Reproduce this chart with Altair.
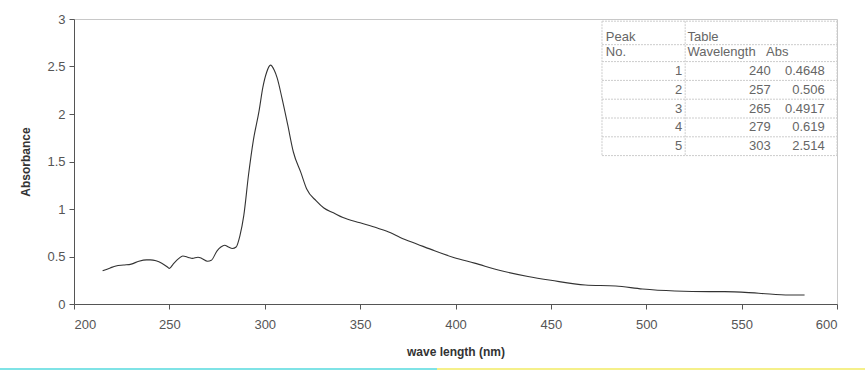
import altair as alt
import pandas as pd

# ---- spectrum data ----
wavelength = [215, 219, 222, 226, 230, 234, 238, 240, 243, 246, 249, 250, 252, 255, 257,
              260, 262, 265, 267, 270, 272, 275, 277, 279, 281, 283, 285, 287, 289, 291.5,
              294, 297, 299, 301, 303, 305, 306.5, 309, 312, 315, 319, 322, 327, 331, 336,
              341, 350, 359, 366, 371, 380, 389, 399, 410, 424, 438, 450, 468, 484, 498,
              515, 533, 541, 559, 575, 583]
absorbance = [0.35, 0.38, 0.40, 0.41, 0.42, 0.45, 0.465, 0.465, 0.455, 0.43, 0.39, 0.375, 0.42,
              0.48, 0.506, 0.49, 0.48, 0.4917, 0.48, 0.45, 0.46, 0.56, 0.60, 0.619, 0.60, 0.585,
              0.60, 0.72, 0.93, 1.36, 1.72, 2.03, 2.28, 2.44, 2.514, 2.46, 2.38, 2.17, 1.89,
              1.60, 1.38, 1.21, 1.085, 1.01, 0.96, 0.91, 0.855, 0.80, 0.75, 0.70, 0.63, 0.56,
              0.49, 0.43, 0.35, 0.29, 0.25, 0.20, 0.19, 0.158, 0.137, 0.13, 0.13, 0.113,
              0.095, 0.095]
assert len(wavelength) == len(absorbance)

# ---- peak table ----
peak_no = ["1", "2", "3", "4", "5"]
peak_wl = ["240", "257", "265", "279", "303"]
peak_abs = ["0.4648", "0.506", "0.4917", "0.619", "2.514"]

x_ticks = [200, 250, 300, 350, 400, 450, 500, 550, 600]
y_ticks = [0, 0.5, 1, 1.5, 2, 2.5, 3]

FONT = "Liberation Sans"
GRAY = "#666666"

spec = pd.DataFrame({"wl": wavelength, "a": absorbance})

line = alt.Chart(spec).mark_line(color="#333333", strokeWidth=1.1, interpolate="monotone").encode(
    x=alt.X("wl:Q", scale=alt.Scale(domain=[200, 600], nice=False),
            axis=alt.Axis(values=x_ticks, title="wave length (nm)", grid=False,
                          tickSize=5, labelPadding=9, titlePadding=15)),
    y=alt.Y("a:Q", scale=alt.Scale(domain=[0, 3], nice=False),
            axis=alt.Axis(values=y_ticks, title="Absorbance", grid=False, format="~g",
                          tickSize=5, labelPadding=4, titlePadding=14)),
)

# table in its own coordinate system: column fraction (x) and row index (y)
tx = alt.Scale(domain=[0, 1], range=[0, 763])
ty = alt.Scale(domain=[0, 4], range=[52, 127.2])

rows = []
for i, (n, w, a) in enumerate(zip(peak_no, peak_wl, peak_abs)):
    rows.append({"r": i, "c": 0.797, "t": n})
    rows.append({"r": i, "c": 0.913, "t": w})
    rows.append({"r": i, "c": 0.984, "t": a})
hdr = [
    {"r": -1.8, "c": 0.697, "t": "Peak"},
    {"r": -1.0, "c": 0.697, "t": "No."},
    {"r": -1.8, "c": 0.804, "t": "Table"},
    {"r": -1.0, "c": 0.804, "t": "Wavelength"},
    {"r": -1.0, "c": 0.907, "t": "Abs"},
]
tdf = pd.DataFrame(rows)
hdf = pd.DataFrame(hdr)

text_r = alt.Chart(tdf).mark_text(align="right", baseline="middle", font=FONT, fontSize=13,
                                  color=GRAY).encode(
    x=alt.X("c:Q", scale=tx, axis=None), y=alt.Y("r:Q", scale=ty, axis=None), text="t:N")
text_l = alt.Chart(hdf).mark_text(align="left", baseline="middle", font=FONT, fontSize=13,
                                  color=GRAY).encode(
    x=alt.X("c:Q", scale=tx, axis=None), y=alt.Y("r:Q", scale=ty, axis=None), text="t:N")

hlines = pd.DataFrame({"r": [-2.65, -1.4, -0.5, 0.5, 1.5, 2.5, 3.5, 4.5],
                       "c0": [0.692] * 8, "c1": [1.0] * 8})
vlines = pd.DataFrame({"c": [0.692, 0.801, 1.0], "r0": [-2.65] * 3, "r1": [4.5] * 3})

hr = alt.Chart(hlines).mark_rule(color="#cccccc", strokeWidth=1, strokeDash=[2, 1]).encode(
    x=alt.X("c0:Q", scale=tx, axis=None), x2="c1:Q",
    y=alt.Y("r:Q", scale=ty, axis=None))
vr = alt.Chart(vlines).mark_rule(color="#cccccc", strokeWidth=1, strokeDash=[2, 1]).encode(
    x=alt.X("c:Q", scale=tx, axis=None),
    y=alt.Y("r0:Q", scale=ty, axis=None), y2="r1:Q")

table = alt.layer(hr, vr, text_r, text_l)

# scan stripe at the bottom of the picture
stripe_c = alt.Chart(pd.DataFrame({"k": [0]})).mark_rule(color="#7fe3e6", strokeWidth=2).encode(
    x=alt.value(-74), x2=alt.value(363), y=alt.value(350))
stripe_y = alt.Chart(pd.DataFrame({"k": [0]})).mark_rule(color="#f5f08a", strokeWidth=2).encode(
    x=alt.value(363), x2=alt.value(791), y=alt.value(350))

chart = alt.layer(line, table, stripe_c, stripe_y).resolve_scale(
    x="independent", y="independent"
).properties(
    width=763, height=285,
    padding={"left": 74, "top": 19, "right": 28, "bottom": 67},
    autosize="none",
    background="white",
).configure_view(
    stroke="#c8c8c8", strokeWidth=1
).configure_axis(
    labelFont=FONT, labelFontSize=13, labelColor="#555555",
    titleFont=FONT, titleFontSize=12, titleFontWeight="bold", titleColor="#333333",
    domainColor="#555555", tickColor="#555555",
)

chart.save("out.html", embed_options={"renderer": "svg", "actions": False})
